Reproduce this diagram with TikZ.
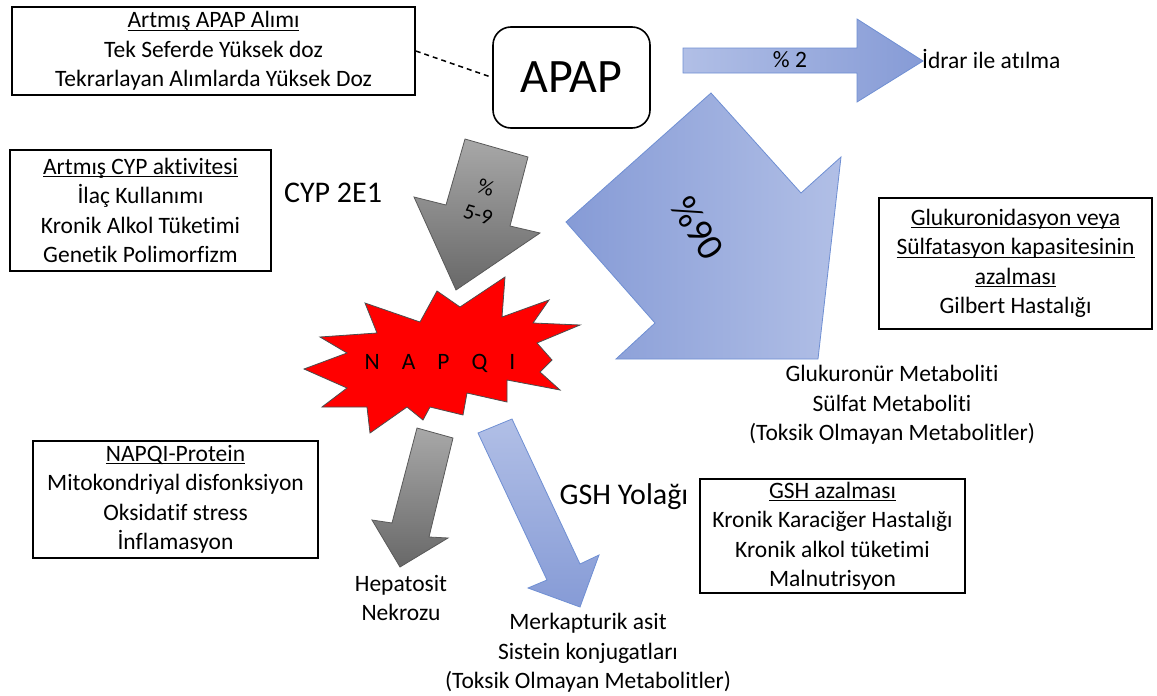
\documentclass[tikz,border=0pt]{standalone}
\usepackage{fontspec}
\setmainfont{Carlito}[Ligatures=NoCommon]
\usetikzlibrary{positioning}
\definecolor{cBlueLt}{HTML}{B1BFE6}
\definecolor{cBlueDk}{HTML}{869BD6}
\definecolor{cBlueLine}{HTML}{6F8FD3}
\definecolor{cGrayLt}{HTML}{A8A8A8}
\definecolor{cGrayDk}{HTML}{686868}
\definecolor{cStar}{HTML}{FF0000}
\newcommand{\ultext}[1]{\setbox0\hbox{#1}\rlap{\copy0}\rule[-3pt]{\wd0}{1.2pt}}
\tikzset{
  font=\fontsize{23.5}{29.5}\selectfont,
  infobox/.style={draw=black, line width=1.6pt, align=center, inner sep=0pt},
  note/.style={align=center, inner sep=0pt},
  bigtext/.style={note, font=\fontsize{30}{36}\selectfont},
  bluearrow/.style={draw=cBlueLine, line width=0.8pt},
  grayarrow/.style={draw=black!65, line width=0.8pt, top color=cGrayLt, bottom color=cGrayDk},
  dashlink/.style={dash pattern=on 5pt off 4pt, line width=1.5pt},
}

\begin{document}
\begin{tikzpicture}[x=1pt, y=-1pt]
  \useasboundingbox (0,0) rectangle (1157,696);

  % ----------------------------------------------------------------
  % APAP and intake box
  % ----------------------------------------------------------------
  \node[draw=black, line width=1.6pt, rounded corners=18pt,
    minimum width=157pt, minimum height=101pt,
    font=\fontsize{48}{52}\selectfont] (apap) at (571.5,77.5) {APAP};

  \node[infobox, minimum width=403pt, minimum height=88pt] (intake) at (213.5,51)
    {\ultext{Artmış APAP Alımı}\\ Tek Seferde Yüksek doz\\ Tekrarlayan Alımlarda Yüksek Doz};
  \draw[dashlink] (intake.east) -- (apap.west);

  % ----------------------------------------------------------------
  % Renal route (% 2)
  % ----------------------------------------------------------------
  \path[bluearrow, left color=cBlueLt, right color=cBlueDk]
    (683,48) -- (857,48) -- (857,19) -- (923,61) -- (857,102) -- (857,73) -- (683,73) -- cycle;
  \node[note] (renal) at (790,60) {\% 2};
  \node[note, anchor=west] (urine) at (922,59) {İdrar ile atılma};

  % ----------------------------------------------------------------
  % Conjugation route (%90)
  % ----------------------------------------------------------------
  \path[bluearrow, left color=cBlueDk, right color=cBlueLt]
    (711,93) -- (801,193) -- (841,157) -- (818,359) -- (616,359) -- (655,323) -- (566,222) -- cycle;
  \node[note, font=\fontsize{38}{40}\selectfont, rotate=-57] (conj) at (698,228) {\%90};
  \node[note] (conjout) at (892,405)
    {Glukuronür Metaboliti\\ Sülfat Metaboliti\\ (Toksik Olmayan Metabolitler)};
  \node[infobox, minimum width=273pt, minimum height=131pt] (glucbox) at (1015.5,263.5)
    {\ultext{Glukuronidasyon veya}\\ \ultext{Sülfatasyon kapasitesinin}\\ \ultext{azalması}\\ Gilbert Hastalığı};

  % ----------------------------------------------------------------
  % CYP route (% 5-9) to NAPQI
  % ----------------------------------------------------------------
  \path[grayarrow]
    (465,139) -- (528,157) -- (510,226) -- (540,233) -- (456,290) -- (414,197) -- (446,205) -- cycle;
  \node[note, font=\fontsize{22}{28}\selectfont, rotate=-16] (cyp) at (482,201) {\%\\ 5-9};
  \node[bigtext] (cyplabel) at (333,193) {CYP 2E1};
  \node[infobox, minimum width=261pt, minimum height=121pt] (cypbox) at (140.5,210.5)
    {\ultext{Artmış CYP aktivitesi}\\ İlaç Kullanımı\\ Kronik Alkol Tüketimi\\ Genetik Polimorfizm};

  \path[draw=black!70, line width=0.8pt, fill=cStar]
    (304,369) -- (347,353) -- (320,337) -- (377,333) -- (365,303) -- (420,322) -- (437,291)
    -- (460,307) -- (505,277) -- (502,317) -- (549,300) -- (533,323) -- (580,325) -- (537,343)
    -- (552,360) -- (540,372) -- (560,390) -- (507,380) -- (507,402) -- (467,393) -- (463,415)
    -- (430,407) -- (423,420) -- (407,407) -- (370,433) -- (367,407) -- (322,407) -- (347,388) -- cycle;
  \node[note] (napqi) at (440,363)
    {N\hspace{22pt}A\hspace{22pt}P\hspace{22pt}Q\hspace{22pt}I};

  % ----------------------------------------------------------------
  % NAPQI outcomes
  % ----------------------------------------------------------------
  \path[grayarrow]
    (417,428) -- (453,438) -- (429,537) -- (448,538) -- (400,567) -- (372,520) -- (392,523) -- cycle;
  \node[note] (necrosis) at (401,598) {Hepatosit\\ Nekrozu};
  \node[infobox, minimum width=285pt, minimum height=117pt] (protbox) at (175.5,499.5)
    {\ultext{NAPQI-Protein}\\ Mitokondriyal disfonksiyon\\ Oksidatif stress\\ İnflamasyon};

  \path[bluearrow, top color=cBlueLt, bottom color=cBlueDk]
    (478,433) -- (512,419) -- (580,564) -- (599,555) -- (580,607) -- (528,588) -- (547,580) -- cycle;
  \node[bigtext] (gsh) at (624,497) {GSH Yolağı};
  \node[note] (gshout) at (588,653)
    {Merkapturik asit\\ Sistein konjugatları\\ (Toksik Olmayan Metabolitler)};
  \node[infobox, minimum width=265pt, minimum height=114pt] (gshbox) at (832.5,536)
    {\ultext{GSH azalması}\\ Kronik Karaciğer Hastalığı\\ Kronik alkol tüketimi\\ Malnutrisyon};

\end{tikzpicture}
\end{document}
